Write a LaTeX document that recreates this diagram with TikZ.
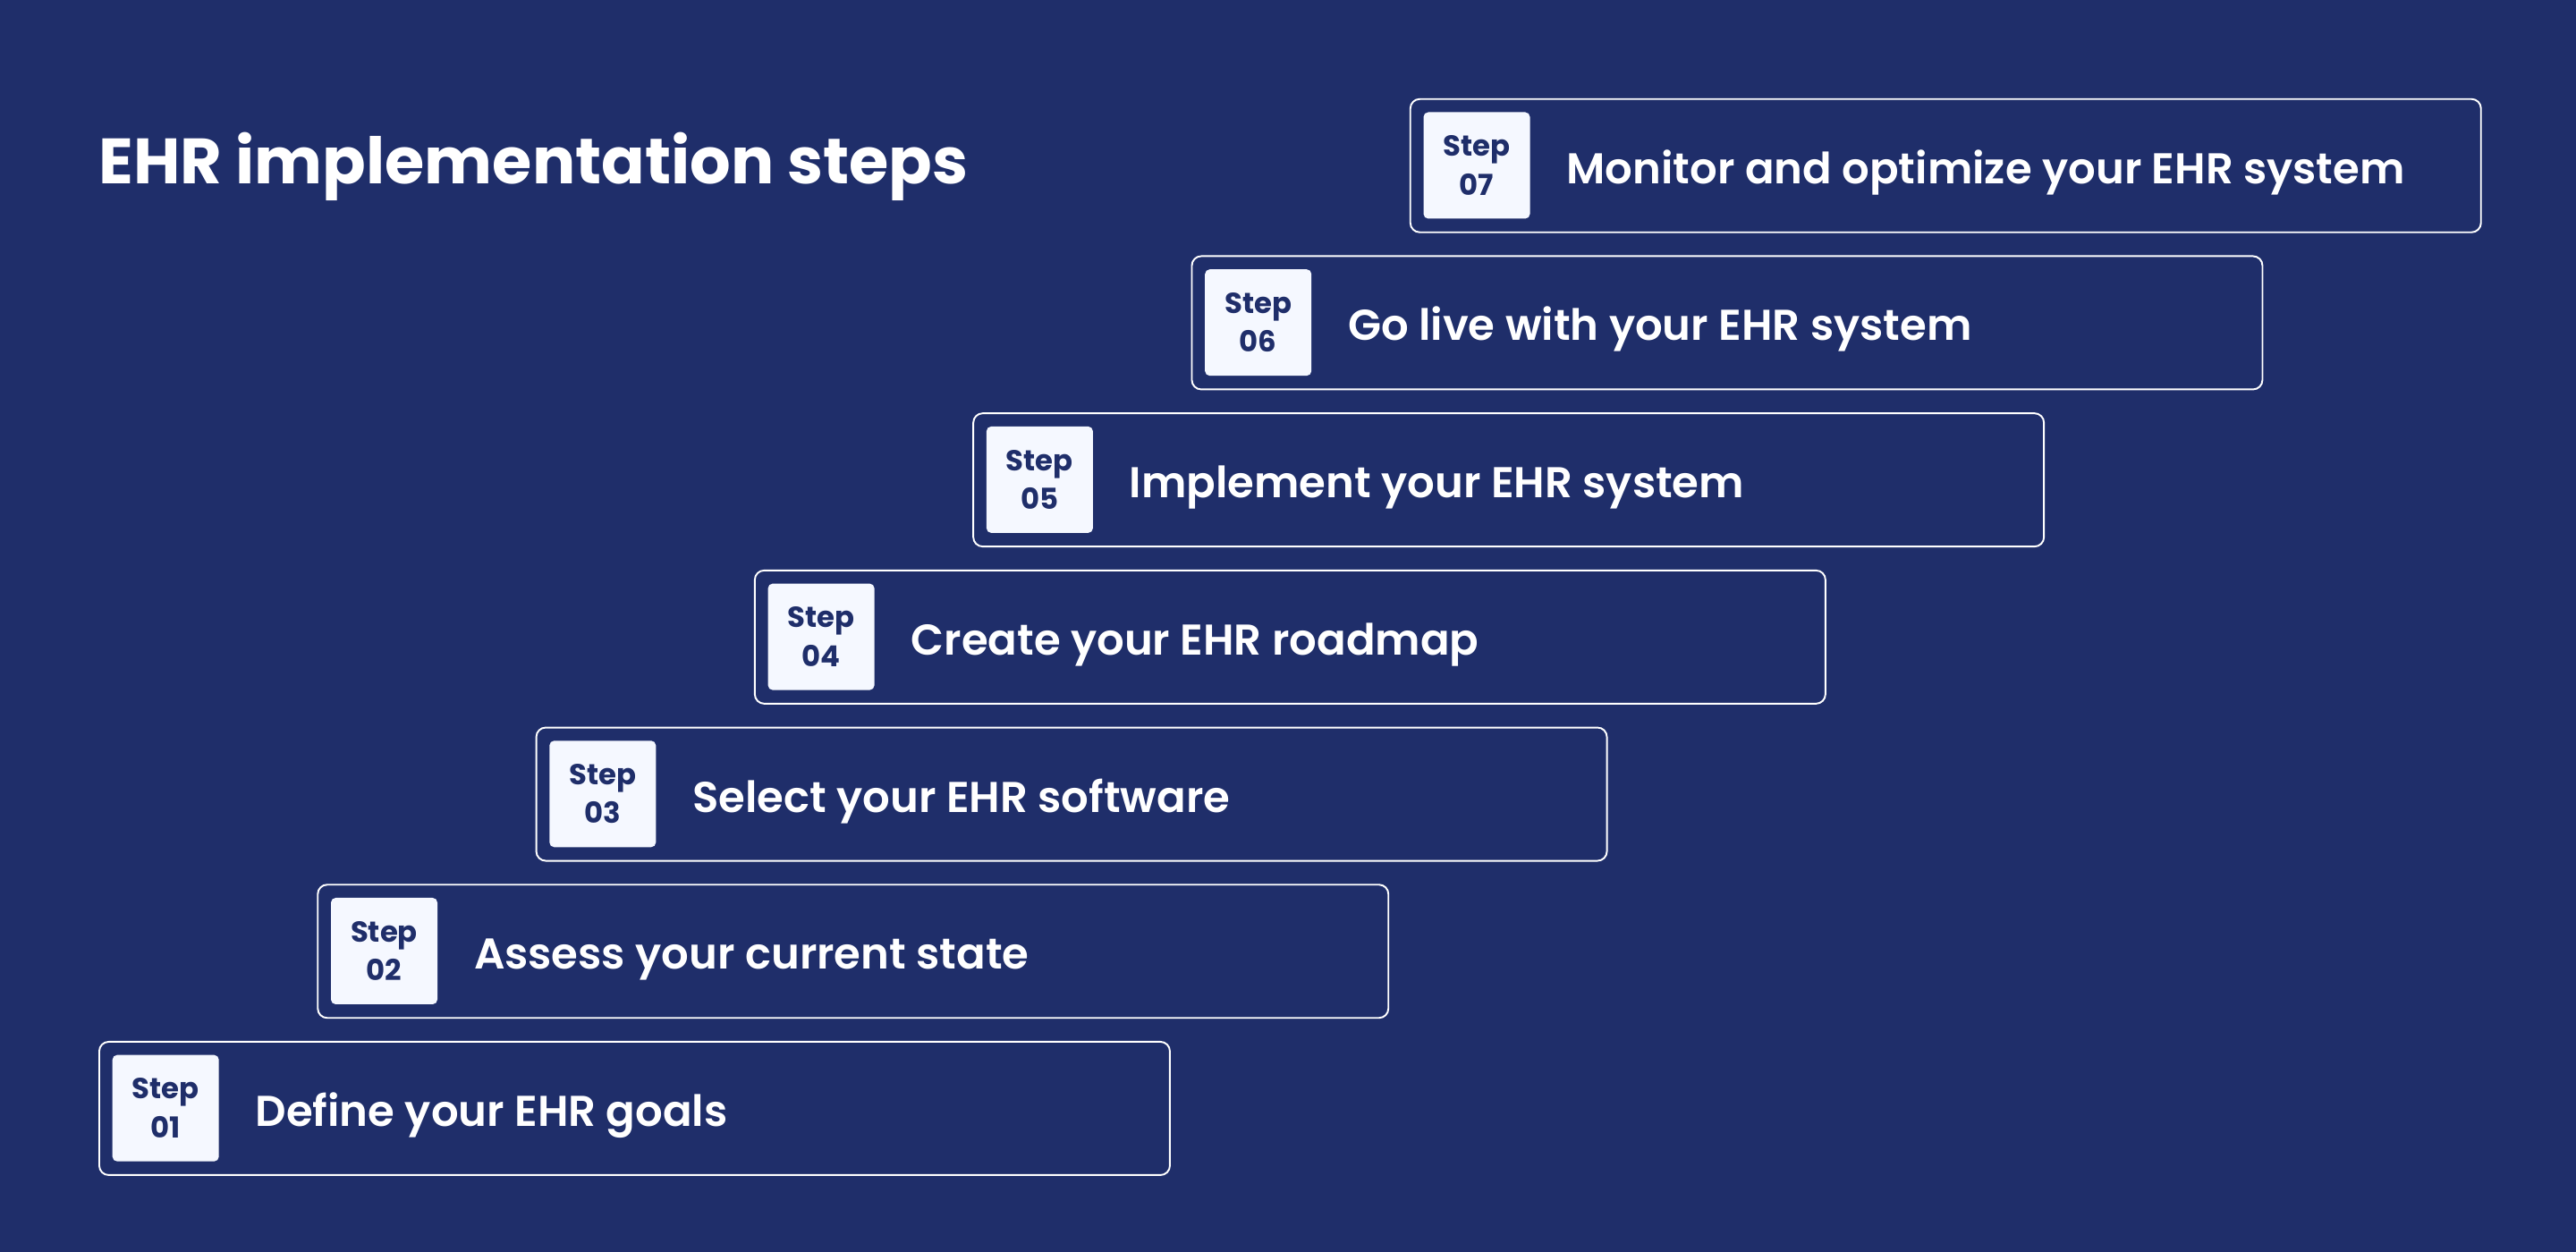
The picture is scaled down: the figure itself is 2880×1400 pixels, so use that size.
\documentclass[tikz,border=0pt]{standalone}
\usepackage{fontspec}
\setmainfont{Poppins}
\newfontfamily\semib{Poppins}[UprightFont={* SemiBold}]
\usepackage{tikz}
\usetikzlibrary{positioning}
\definecolor{navy}{RGB}{31,46,106}
\definecolor{paper}{RGB}{245,248,255}

\begin{document}
\begin{tikzpicture}[x=0.1mm, y=-0.1mm,
  stepbox/.style={rectangle,draw=white,line width=0.55pt,rounded corners=3pt,
    minimum width=119.7mm,minimum height=14.9mm,anchor=north west,inner sep=0pt},
  tag/.style={rectangle,fill=paper,rounded corners=1.5pt,minimum size=11.9mm,anchor=north west,
    inner sep=0pt,align=center,text=navy,font=\bfseries\fontsize{9.2}{12.4}\selectfont},
  label/.style={anchor=base west,text=white,inner sep=0pt,font=\semib\fontsize{13.7}{16}\selectfont}]
\fill[navy] (0,0) rectangle (2880,1400);
\useasboundingbox (0,0) rectangle (2880,1400);
\node[anchor=base west,text=white,inner sep=0pt,font=\bfseries\fontsize{20.4}{24}\selectfont] (title) at (110,206) {EHR implementation steps};
\foreach \n/\txt [count=\i from 0] in {01/Define your EHR goals,02/Assess your current state,
  03/Select your EHR software,04/Create your EHR roadmap,05/Implement your EHR system,
  06/Go live with your EHR system,07/Monitor and optimize your EHR system}{
  \node[stepbox] (b\n) at (110+244.3*\i,1164-175.7*\i) {};
  \node[tag] (t\n) at ([shift={(15,15)}]b\n.north west) {Step\\\n};
  \node[label] (l\n) at ([shift={(175,20)}]b\n.west) {\txt};
}
\end{tikzpicture}
\end{document}
